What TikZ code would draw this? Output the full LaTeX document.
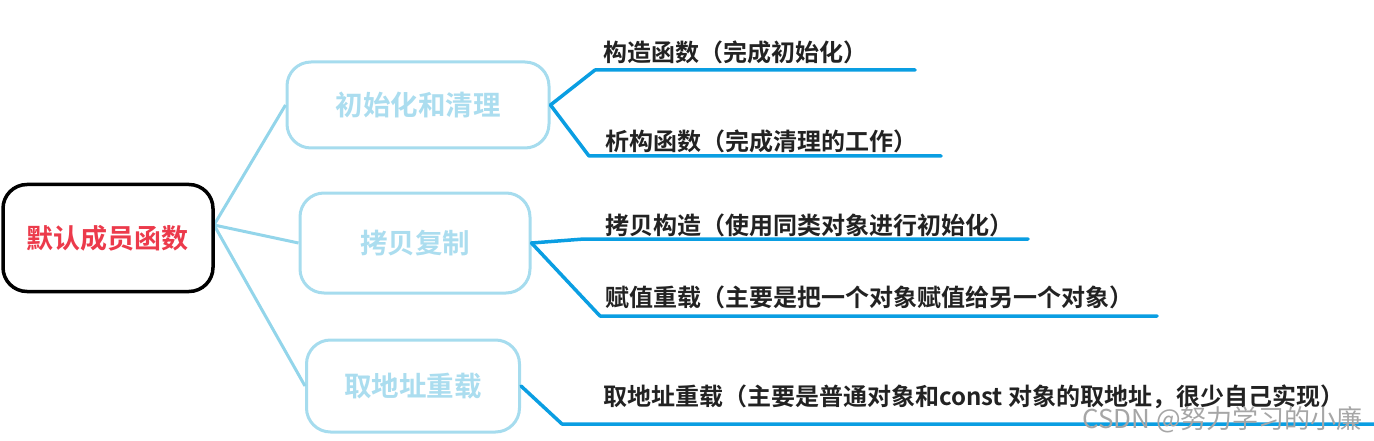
\documentclass[tikz,border=0pt]{standalone}
\usepackage{fontspec}
\newfontfamily\cjk{Noto Sans CJK SC}[BoldFont={Noto Sans CJK SC Bold}]
\newfontfamily\cjkwm{Noto Sans CJK SC}
\definecolor{lblue}{HTML}{A6DCEE}
\definecolor{ltext}{HTML}{ABDDEF}
\definecolor{lconn}{HTML}{93D5EA}
\definecolor{dblue}{HTML}{0A9EE2}
\definecolor{rtext}{HTML}{EC3A4B}
\definecolor{labtext}{HTML}{222222}
\tikzset{
  rootbox/.style={draw=black, line width=3.5pt, rounded corners=24pt, fill=white,
    minimum width=210pt, minimum height=107pt, inner sep=0pt,
    font=\cjk\bfseries\fontsize{27}{27}\selectfont, text=rtext},
  subbox/.style={draw=lblue, line width=3pt, rounded corners=24pt, fill=white,
    inner sep=0pt, font=\cjk\bfseries\fontsize{27.5}{27.5}\selectfont, text=ltext},
  lconnector/.style={draw=lconn, line width=3pt},
  dconnector/.style={draw=dblue, line width=3.5pt, line join=round, line cap=round},
  leaf/.style={anchor=west, inner sep=0pt, font=\cjk\bfseries\fontsize{24}{24}\selectfont, text=labtext},
  watermark/.style={anchor=west, inner sep=0pt, font=\cjkwm\fontsize{26}{26}\selectfont, text=black!35}
}
\begin{document}
\begin{tikzpicture}[x=1pt, y=-1pt]
\useasboundingbox (0,0) rectangle (1374,441);
\coordinate (rj) at (214,225);
\node[subbox, minimum width=262pt, minimum height=86pt] (b1) at (418,105) {初始化和清理};
\node[subbox, minimum width=230pt, minimum height=100pt] (b2) at (415,243) {拷贝复制};
\node[subbox, minimum width=213pt, minimum height=92pt] (b3) at (413,386) {取地址重载};
\draw[lconnector] (rj) -- (b1.west);
\draw[lconnector] (rj) -- (b2.west);
\draw[lconnector] (rj) -- (b3.west);
\node[rootbox] (root) at (108,238) {默认成员函数};
% leaves
\node[leaf] (l1) at (603,52) {构造函数（完成初始化）};
\node[leaf] (l2) at (605,141) {析构函数（完成清理的工作）};
\node[leaf] (l3) at (605,225) {拷贝构造（使用同类对象进行初始化）};
\node[leaf] (l4) at (605,297) {赋值重载（主要是把一个对象赋值给另一个对象）};
\node[leaf] (l5) at (603,397) {取地址重载（主要是普通对象和const 对象的取地址，很少自己实现）};
% branch coordinates
\coordinate (k1) at (595,70);  \coordinate (e1) at (915,70);
\coordinate (k2) at (589,156); \coordinate (e2) at (941,156);
\coordinate (k3) at (584,239); \coordinate (e3) at (1028,239);
\coordinate (k4) at (600,316); \coordinate (e4) at (1157,316);
\coordinate (k5) at (562,424); \coordinate (e5) at (1374,424);
\draw[dconnector] (b1.east) -- (k1) -- (e1);
\draw[dconnector] (b1.east) -- (k2) -- (e2);
\draw[dconnector] (b2.east) -- (k3) -- (e3);
\draw[dconnector] (b2.east) -- (k4) -- (e4);
\draw[dconnector] (b3.east) -- (k5) -- (e5);
% watermark
\node[watermark] (wm) at (1082,420) {CSDN @努力学习的小廉};
\end{tikzpicture}
\end{document}
